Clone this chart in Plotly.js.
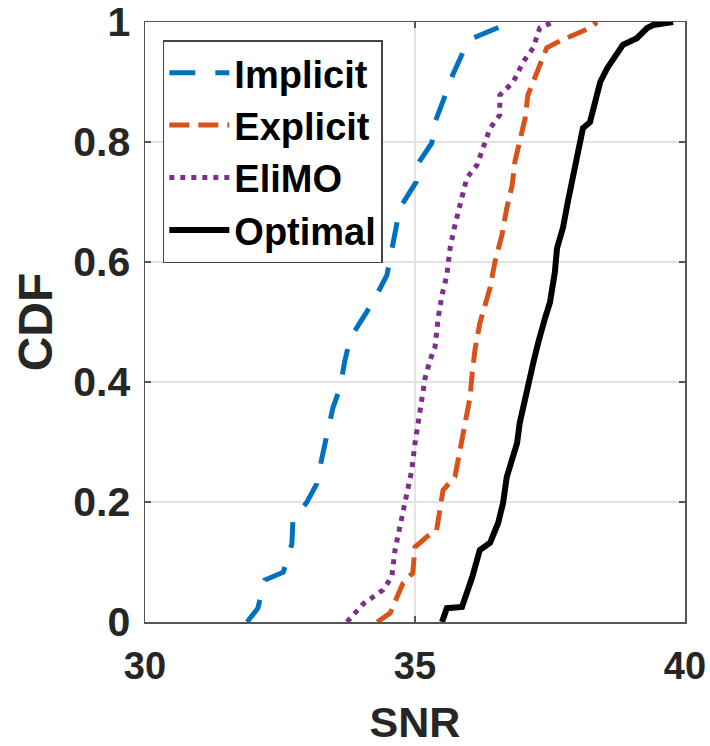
<!DOCTYPE html>
<html>
<head>
<meta charset="utf-8">
<script src="https://cdn.plot.ly/plotly-3.0.1.min.js"></script>
<style>html,body{margin:0;padding:0;background:#fff;}#chart{width:710px;height:746px;}</style>
</head>
<body>
<div id="chart"></div>
<script>
// Series names
const seriesNames = ["Implicit", "Explicit", "EliMO", "Optimal"];

// Implicit (SNR, CDF)
const implicitX = [31.89, 32.09, 32.22, 32.56, 32.72, 32.74, 33.0, 33.18, 33.28, 33.37, 33.48, 33.61, 33.7, 33.8, 34.04, 34.22, 34.48, 34.59, 34.72, 35.02, 35.04, 35.31, 35.37, 35.56, 35.7, 35.89, 36.07, 36.52, 36.76];
const implicitY = [0, 0.023, 0.07, 0.083, 0.13, 0.17, 0.2, 0.23, 0.275, 0.315, 0.357, 0.39, 0.435, 0.473, 0.508, 0.533, 0.578, 0.633, 0.69, 0.733, 0.762, 0.798, 0.833, 0.878, 0.912, 0.95, 0.973, 0.99, 1.0];

// Explicit
const explicitX = [34.3, 34.54, 34.78, 34.96, 35.0, 35.22, 35.4, 35.46, 35.52, 35.74, 35.83, 35.93, 36.02, 36.06, 36.11, 36.2, 36.39, 36.48, 36.61, 36.7, 36.8, 36.85, 36.94, 37.04, 37.09, 37.19, 37.31, 37.44, 37.72, 38.0, 38.24, 38.37];
const explicitY = [0, 0.015, 0.065, 0.082, 0.125, 0.142, 0.153, 0.182, 0.22, 0.242, 0.287, 0.332, 0.375, 0.415, 0.453, 0.498, 0.557, 0.6, 0.645, 0.69, 0.728, 0.767, 0.8, 0.84, 0.878, 0.9, 0.928, 0.957, 0.97, 0.982, 0.99, 1.0];

// EliMO
const elimoX = [33.74, 34.04, 34.4, 34.57, 34.63, 34.72, 34.81, 34.94, 35.0, 35.06, 35.13, 35.19, 35.28, 35.37, 35.43, 35.5, 35.59, 35.65, 35.74, 35.83, 35.96, 36.15, 36.26, 36.39, 36.57, 36.57, 36.82, 37.0, 37.19, 37.31, 37.56];
const elimoY = [0, 0.03, 0.053, 0.075, 0.12, 0.158, 0.203, 0.253, 0.298, 0.337, 0.37, 0.408, 0.437, 0.458, 0.507, 0.545, 0.578, 0.623, 0.662, 0.695, 0.74, 0.762, 0.79, 0.823, 0.845, 0.878, 0.9, 0.933, 0.957, 0.99, 1.0];

// Optimal
const optimalX = [35.5, 35.59, 35.87, 35.96, 36.06, 36.2, 36.39, 36.54, 36.63, 36.7, 36.8, 36.89, 36.94, 37.04, 37.13, 37.19, 37.28, 37.37, 37.41, 37.5, 37.59, 37.63, 37.74, 37.83, 37.91, 38.0, 38.06, 38.11, 38.24, 38.33, 38.43, 38.56, 38.74, 38.85, 39.11, 39.3, 39.41, 39.78];
const optimalY = [0, 0.023, 0.025, 0.048, 0.075, 0.12, 0.132, 0.165, 0.198, 0.242, 0.275, 0.298, 0.332, 0.375, 0.408, 0.432, 0.465, 0.498, 0.507, 0.533, 0.583, 0.623, 0.657, 0.7, 0.733, 0.767, 0.8, 0.823, 0.833, 0.867, 0.9, 0.923, 0.95, 0.962, 0.973, 0.99, 0.995, 1.0];

// Axis ticks
const xTicks = [30, 35, 40];
const yTicks = [0, 0.2, 0.4, 0.6, 0.8, 1];

const FONT = "'Liberation Sans', Arial, Helvetica, sans-serif";

const traces = [
  {x: implicitX, y: implicitY, name: seriesNames[0], mode: 'lines',
   line: {color: '#0072BD', width: 5, dash: '26px,20px'}},
  {x: explicitX, y: explicitY, name: seriesNames[1], mode: 'lines',
   line: {color: '#D95319', width: 5, dash: '20px,9px'}},
  {x: elimoX, y: elimoY, name: seriesNames[2], mode: 'lines',
   line: {color: '#7E2F8E', width: 5, dash: '5px,6px'}},
  {x: optimalX, y: optimalY, name: seriesNames[3], mode: 'lines',
   line: {color: '#000000', width: 6}}
];

const axisCommon = {
  showgrid: true, gridcolor: '#e3e3e3', gridwidth: 1.5,
  zeroline: false, showline: true, linecolor: '#555555', linewidth: 1.5,
  mirror: 'ticks', ticks: 'inside', ticklen: 6, tickcolor: '#555555', tickwidth: 1.2,
  ticklabeloverflow: 'allow'
};

const layout = {
  width: 710, height: 746,
  margin: {l: 145, r: 25, t: 22, b: 124},
  paper_bgcolor: '#ffffff', plot_bgcolor: '#ffffff',
  font: {family: FONT, color: '#262626', weight: 'bold'},
  showlegend: true,
  legend: {
    x: 0.033, y: 0.97, xanchor: 'left', yanchor: 'top',
    bgcolor: '#ffffff', bordercolor: '#444444', borderwidth: 1.5,
    font: {family: FONT, size: 38, color: '#000000', weight: 'bold'},
    itemwidth: 60, tracegroupgap: 0
  },
  xaxis: Object.assign({}, axisCommon, {
    range: [30, 40], tickvals: xTicks, ticktext: xTicks.map(String),
    tickfont: {family: FONT, size: 38, color: '#262626', weight: 'bold'},
    ticklabelstandoff: 10,
    title: {text: 'SNR', font: {family: FONT, size: 43, color: '#262626', weight: 'bold'}, standoff: 21}
  }),
  yaxis: Object.assign({}, axisCommon, {
    range: [0, 1], tickvals: yTicks, ticktext: yTicks.map(String),
    tickfont: {family: FONT, size: 41, color: '#262626', weight: 'bold'},
    ticklabelstandoff: 5,
    title: {text: 'CDF', font: {family: FONT, size: 48, color: '#262626', weight: 'bold'}, standoff: 5}
  })
};

Plotly.newPlot('chart', traces, layout, {displayModeBar: false, staticPlot: true});
</script>
</body>
</html>
